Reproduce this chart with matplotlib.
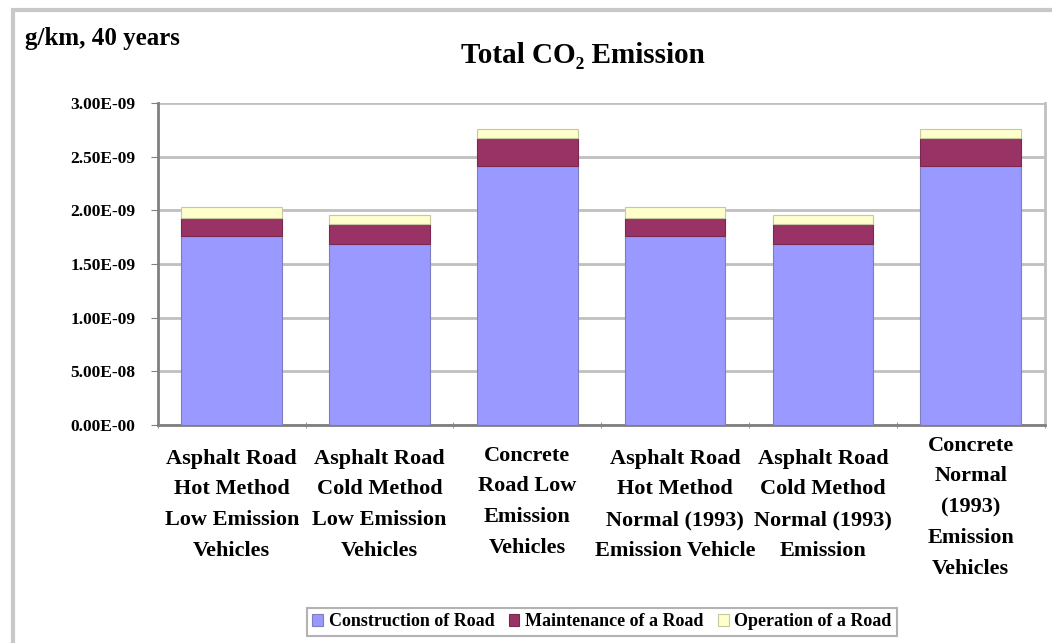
import numpy as np
import matplotlib
matplotlib.use("Agg")
import matplotlib.pyplot as plt
from matplotlib.patches import Rectangle
from matplotlib.transforms import ScaledTranslation

plt.rcParams['font.family'] = ['Liberation Serif', 'DejaVu Serif']
plt.rcParams['font.weight'] = 'bold'

categories = [
    "Asphalt Road\nHot Method\nLow Emission\nVehicles",
    "Asphalt Road\nCold Method\nLow Emission\nVehicles",
    "Concrete\nRoad Low\nEmission\nVehicles",
    "Asphalt Road\nHot Method\nNormal (1993)\nEmission Vehicle",
    "Asphalt Road\nCold Method\nNormal (1993)\nEmission",
    "Concrete\nNormal\n(1993)\nEmission\nVehicles",
]
construction = [1.76, 1.69, 2.41, 1.76, 1.69, 2.41]
maintenance = [0.17, 0.18, 0.26, 0.17, 0.18, 0.26]
operation = [0.10, 0.09, 0.09, 0.10, 0.09, 0.09]
series_names = ["Construction of Road", "Maintenance of a Road", "Operation of a Road"]
ytick_vals = [0, 0.5, 1.0, 1.5, 2.0, 2.5, 3.0]
ytick_labels = ["0.00E-00", "5.00E-08", "1.00E-09", "1.50E-09", "2.00E-09", "2.50E-09", "3.00E-09"]

colors = ["#9999FF", "#993366", "#FFFFCC"]

fig = plt.figure(figsize=(10.52, 6.43), dpi=100)
fig.patches.append(Rectangle((0.012, -0.01), 0.99, 0.995, transform=fig.transFigure,
                             fill=False, edgecolor="#c8c8c8", linewidth=3))

ax = fig.add_axes([0.150, 0.339, 0.843, 0.501])
x = np.arange(len(categories))
w = 0.68
b1 = ax.bar(x, construction, w, color=colors[0], edgecolor="#7f7fbf", linewidth=0.8,
            label=series_names[0], zorder=3)
b2 = ax.bar(x, maintenance, w, bottom=construction, color=colors[1], edgecolor="#7a2850",
            linewidth=0.8, label=series_names[1], zorder=3)
bottom2 = np.array(construction) + np.array(maintenance)
b3 = ax.bar(x, operation, w, bottom=bottom2, color=colors[2], edgecolor="#c8c8a0",
            linewidth=0.8, label=series_names[2], zorder=3)

ax.set_xlim(-0.5, len(categories) - 0.5)
ax.set_ylim(0, 3.0)
ax.set_yticks(ytick_vals)
ax.set_yticklabels(ytick_labels, fontsize=12.5, fontweight='bold')
ax.set_xticks(x)
ax.set_xticklabels(categories, fontsize=16, fontweight='bold', linespacing=1.72)
ax.tick_params(axis='x', length=0, pad=17)
ax.set_xticks(np.arange(-0.5, len(categories), 1.0), minor=True)
ax.tick_params(axis='x', which='minor', length=5, direction='inout', color='#808080')
ax.tick_params(axis='y', length=5, direction='out', color='#808080', pad=11)

# the five-line label sits a bit higher in the original
lbl = ax.get_xticklabels()[5]
lbl.set_transform(lbl.get_transform() + ScaledTranslation(0, 0.13, fig.dpi_scale_trans))
lbl = ax.get_xticklabels()[2]
lbl.set_transform(lbl.get_transform() + ScaledTranslation(0, 0.03, fig.dpi_scale_trans))

ax.grid(axis='y', color='#c0c0c0', linewidth=2, zorder=0)
for s in ['left', 'bottom']:
    ax.spines[s].set_color('#808080')
    ax.spines[s].set_linewidth(2)
ax.spines['top'].set_visible(False)
ax.spines['right'].set_color('#c0c0c0')
ax.spines['right'].set_linewidth(2)

fig.text(0.024, 0.94, "g/km, 40 years", fontsize=18, fontweight='bold', va='center')
fig.text(0.554, 0.913, "Total CO\u2082 Emission", fontsize=21, fontweight='bold',
         ha='center', va='center')

leg = fig.legend(handles=[b1, b2, b3], loc='center', bbox_to_anchor=(0.572, 0.033), ncol=3,
                 fontsize=13, frameon=True, fancybox=False, handlelength=0.6,
                 handleheight=0.6, handletextpad=0.3, columnspacing=0.8, borderpad=0.3)
leg.get_frame().set_edgecolor('#a0a0a0')
leg.get_frame().set_linewidth(1.5)

fig.savefig("out.png", dpi=100)
